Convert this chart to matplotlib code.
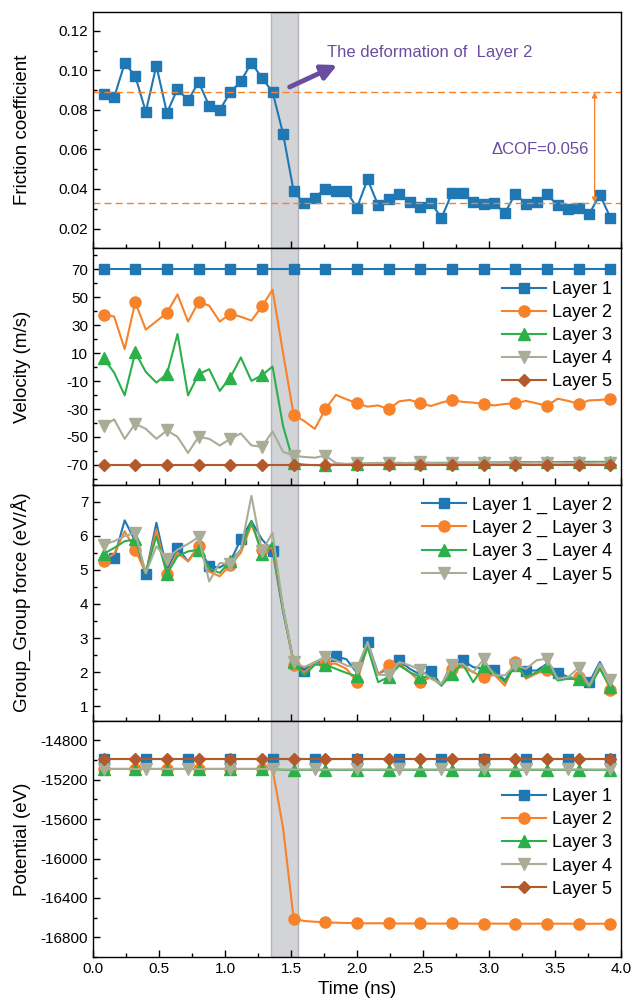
import numpy as np
import matplotlib
matplotlib.use('Agg')
import matplotlib.pyplot as plt
from matplotlib.ticker import MultipleLocator

plt.rcParams['font.family'] = ['Liberation Sans', 'DejaVu Sans']
plt.rcParams['axes.unicode_minus'] = False

# time axis (ns), one sample every 0.08 ns
time = [round(0.08 * (i + 1), 2) for i in range(49)]

# friction coefficient
cof = [0.088, 0.0863, 0.1036, 0.0972, 0.079, 0.1024, 0.0785, 0.0906, 0.0848, 0.0941,
       0.0821, 0.080, 0.0889, 0.0945, 0.1039, 0.0961, 0.0892, 0.0679, 0.0389, 0.0327,
       0.0356, 0.0401, 0.0389, 0.0389, 0.0305, 0.0449, 0.0318, 0.0347, 0.0374, 0.0332,
       0.0308, 0.0330, 0.0254, 0.0379, 0.0379, 0.0332, 0.0325, 0.0328, 0.0278, 0.0376,
       0.0325, 0.0332, 0.0373, 0.0317, 0.030, 0.0305, 0.0275, 0.0371, 0.0254]
cof_before = 0.089
cof_after = 0.033

# velocity (m/s)
vel_l1 = [70.0] * 49
vel_l2 = [37.6, 36.2, 12.9, 46.5, 26.8, 32.8, 38.8, 52.0, 32.6, 46.5,
          44.0, 32.6, 38.1, 36.0, 33.3, 43.4, 55.4, 10.0, -34.1,
          -38.6, -44.2, -30.2, -19.9, -23.0, -25.9, -28.3, -27.4, -30.2, -24.5,
          -23.5, -25.9, -27.8, -25.4, -23.5, -24.9, -25.4, -26.4, -27.4, -26.4,
          -25.9, -24.2, -25.9, -27.8, -22.6, -24.2, -26.4, -23.8, -23.5, -22.8]
vel_l3 = [6.2, -3.9, -20.2, 10.5, -3.4, -11.1, -5.1, 23.7, -20.2, -5.1,
          -1.5, -17.0, -7.5, 6.9, -9.9, -5.8, 0.4, -42.2, -68.6,
          -69.8, -70.2, -70.0, -69.6, -69.4, -69.2, -69.0, -69.0, -68.8, -68.8,
          -68.6, -68.6, -68.5, -68.5, -68.4, -68.3, -68.3, -68.2, -68.2, -68.1,
          -68.1, -68.0, -68.0, -68.0, -67.9, -67.9, -67.8, -67.8, -67.8, -67.7]
vel_l4 = [-42.2, -37.4, -51.3, -40.5, -44.2, -51.3, -45.3, -49.9, -61.4, -49.9,
          -51.3, -56.1, -51.3, -47.5, -56.0, -57.1, -46.0, -60.7, -63.3,
          -64.3, -64.8, -63.3, -68.6, -69.3, -68.8, -68.9, -68.5, -68.7, -68.4,
          -68.8, -68.0, -68.6, -68.9, -68.4, -68.5, -68.7, -68.3, -68.6, -68.4,
          -68.8, -68.5, -68.3, -68.6, -68.4, -68.7, -68.5, -68.6, -68.4, -68.6]
vel_l5 = [-70.0] * 49

# group-group force (eV/A)
gf_12 = [5.43, 5.35, 6.45, 5.84, 4.88, 6.38, 5.0, 5.64, 5.25, 5.69,
         5.1, 5.07, 5.25, 5.89, 6.43, 5.89, 5.56, 3.77, 2.3, 2.05,
         2.25, 2.35, 2.47, 2.38, 1.98, 2.89, 1.96, 2.1, 2.35, 2.1,
         1.93, 2.05, 1.61, 2.3, 2.35, 2.15, 2.1, 2.07, 1.76, 2.25,
         2.05, 2.05, 2.25, 1.99, 1.86, 1.81, 1.71, 2.3, 1.71]
gf_23 = [5.27, 5.47, 6.13, 5.59, 4.9, 6.18, 4.88, 5.5, 5.25, 5.69,
         4.95, 4.81, 5.15, 5.5, 6.33, 5.59, 5.64, 3.87, 2.2, 2.0,
         2.25, 2.25, 2.25, 2.1, 1.71, 2.79, 1.93, 2.22, 2.25, 2.0,
         1.71, 1.86, 1.66, 2.1, 2.15, 2.0, 1.86, 1.93, 1.61, 2.3,
         1.81, 1.96, 2.08, 1.81, 1.81, 1.86, 1.61, 2.15, 1.49]
gf_34 = [5.47, 5.64, 5.84, 5.89, 4.93, 5.99, 4.88, 5.4, 5.54, 5.59,
         5.05, 4.91, 5.25, 5.59, 6.43, 5.45, 5.79, 3.87, 2.3, 1.91,
         2.22, 2.22, 2.1, 1.98, 1.88, 2.74, 1.71, 1.86, 2.2, 2.0,
         1.86, 1.86, 1.61, 1.96, 2.25, 1.71, 2.17, 2.0, 1.71, 2.22,
         1.86, 2.0, 2.17, 1.76, 1.81, 1.79, 1.56, 2.1, 1.56]
gf_45 = [5.74, 5.84, 5.99, 6.09, 4.9, 5.69, 5.33, 5.59, 5.76, 5.96,
         4.66, 5.2, 5.18, 5.59, 7.17, 5.54, 6.09, 3.87, 2.3, 2.15,
         2.3, 2.45, 2.35, 2.2, 2.12, 2.89, 1.93, 1.91, 2.3, 2.2,
         2.07, 1.81, 1.66, 2.22, 2.25, 2.0, 2.38, 1.91, 1.91, 2.22,
         2.1, 2.35, 2.4, 1.81, 1.86, 2.13, 1.61, 2.25, 1.76]

# potential energy (eV)
pot_l1 = [-14985.0] * 49
pot_l2 = [-15090.0] * 17 + [-15690, -16610, -16635, -16642, -16648, -16652, -16655,
                            -16656, -16658, -16658, -16659, -16660, -16660, -16660,
                            -16661, -16661, -16660, -16661, -16662, -16661, -16661,
                            -16662, -16661, -16662, -16662, -16661, -16662, -16662,
                            -16662, -16663, -16662, -16662]
pot_l3 = [-15090.0] * 17 + [-15100.0] * 32
pot_l4 = [-15090.0] * 17 + [-15095.0] * 32
pot_l5 = [-14985.0] * 49

layer_names = ['Layer 1', 'Layer 2', 'Layer 3', 'Layer 4', 'Layer 5']
pair_names = ['Layer 1 _ Layer 2', 'Layer 2 _ Layer 3',
              'Layer 3 _ Layer 4', 'Layer 4 _ Layer 5']

colors = ['#1f77b4', '#f7822a', '#2bb04a', '#a9ad98', '#b35a2c']
markers = ['s', 'o', '^', 'v', 'D']
msizes = [7, 8, 8, 8, 6.5]
purple = '#6a4da0'

leg_kw = dict(loc='center right', frameon=False, fontsize=13, handlelength=2.4,
              handletextpad=0.35, labelspacing=0.34, borderpad=0.2, borderaxespad=0.3)

fig, axes = plt.subplots(4, 1, figsize=(6.34, 10.05), dpi=100, sharex=True)
fig.subplots_adjust(left=0.1467, right=0.9795, top=0.988, bottom=0.0478, hspace=0)

for ax in axes:
    ax.axvspan(1.35, 1.55, facecolor='#d3d4d8', edgecolor='#b4b5b9', lw=1, zorder=0)
    ax.set_xlim(0, 4.0)
    ax.xaxis.set_major_locator(MultipleLocator(0.5))
    ax.xaxis.set_minor_locator(MultipleLocator(0.25))
    ax.tick_params(which='both', direction='in', top=False, right=False, labelsize=11)
    ax.tick_params(which='major', length=5, width=1)
    ax.tick_params(which='minor', length=3, width=1)
    for s in ax.spines.values():
        s.set_linewidth(1.0)
    ax.yaxis.set_label_coords(-0.118, 0.5)

# --- friction coefficient
ax = axes[0]
ax.plot(time, cof, color=colors[0], marker='s', ms=6.5, lw=1.5)
ax.axhline(cof_before, color=colors[1], ls='--', lw=1, dashes=(5, 3))
ax.axhline(cof_after, color=colors[1], ls='--', lw=1, dashes=(5, 3))
ax.annotate('', xy=(3.80, cof_before), xytext=(3.80, cof_after),
            arrowprops=dict(arrowstyle='<|-|>', color=colors[1], lw=0.9,
                            shrinkA=0, shrinkB=0, mutation_scale=8))
ax.text(3.76, 0.0601, '\u0394COF=0.056', color=purple, fontsize=12,
        ha='right', va='center')
ax.annotate('', xy=(1.85, 0.1027), xytext=(1.49, 0.0916),
            arrowprops=dict(arrowstyle='-|>,head_width=0.45,head_length=0.9',
                            color=purple, lw=3.5, shrinkA=0, shrinkB=0))
ax.text(1.77, 0.109, 'The deformation of  Layer 2', color=purple, fontsize=12,
        ha='left', va='center')
ax.set_ylim(0.01, 0.1295)
ax.yaxis.set_minor_locator(MultipleLocator(0.01))
ax.set_yticks([0.02, 0.04, 0.06, 0.08, 0.10, 0.12])
ax.set_yticklabels(['0.02', '0.04', '0.06', '0.08', '0.10', '0.12'])
ax.set_ylabel('Friction coefficient', fontsize=13.5)

# --- velocity
ax = axes[1]
for vals, name, c, m, ms in zip([vel_l1, vel_l2, vel_l3, vel_l4, vel_l5],
                                layer_names, colors, markers, msizes):
    ax.plot(time, vals, color=c, marker=m, ms=ms, lw=1.5, markevery=3, label=name)
ax.set_ylim(-84, 85)
ax.set_yticks([70, 50, 30, 10, -10, -30, -50, -70])
ax.yaxis.set_minor_locator(MultipleLocator(10))
ax.set_ylabel('Velocity (m/s)', fontsize=13.5)
ax.legend(bbox_to_anchor=(1.0, 0.63), **leg_kw)

# --- group force
ax = axes[2]
pair_marks = [(1, 3), (0, 3), (0, 3), (0, 3)]
for vals, name, c, m, ms, me in zip([gf_12, gf_23, gf_34, gf_45], pair_names,
                                    colors, markers, msizes, pair_marks):
    ax.plot(time, vals, color=c, marker=m, ms=ms, lw=1.5, markevery=me, label=name)
ax.set_ylim(0.58, 7.5)
ax.yaxis.set_major_locator(MultipleLocator(1))
ax.yaxis.set_minor_locator(MultipleLocator(0.5))
ax.set_ylabel('Group_Group force (eV/\u00c5)', fontsize=13.5)
ax.legend(bbox_to_anchor=(1.0, 0.765), **leg_kw)

# --- potential
ax = axes[3]
pot_marks = [4, 3, 3, 4, 3]
for vals, name, c, m, ms, me in zip([pot_l1, pot_l2, pot_l3, pot_l4, pot_l5],
                                    layer_names, colors, markers, msizes, pot_marks):
    ax.plot(time, vals, color=c, marker=m, ms=ms, lw=1.5, markevery=me, label=name)
ax.set_ylim(-17000, -14600)
ax.set_yticks([-14800, -15200, -15600, -16000, -16400, -16800])
ax.yaxis.set_minor_locator(MultipleLocator(200))
ax.set_ylabel('Potential (eV)', fontsize=13.5)
ax.set_xlabel('Time (ns)', fontsize=13.5)
ax.legend(bbox_to_anchor=(1.0, 0.483), **leg_kw)

plt.savefig('out.png', dpi=100)
